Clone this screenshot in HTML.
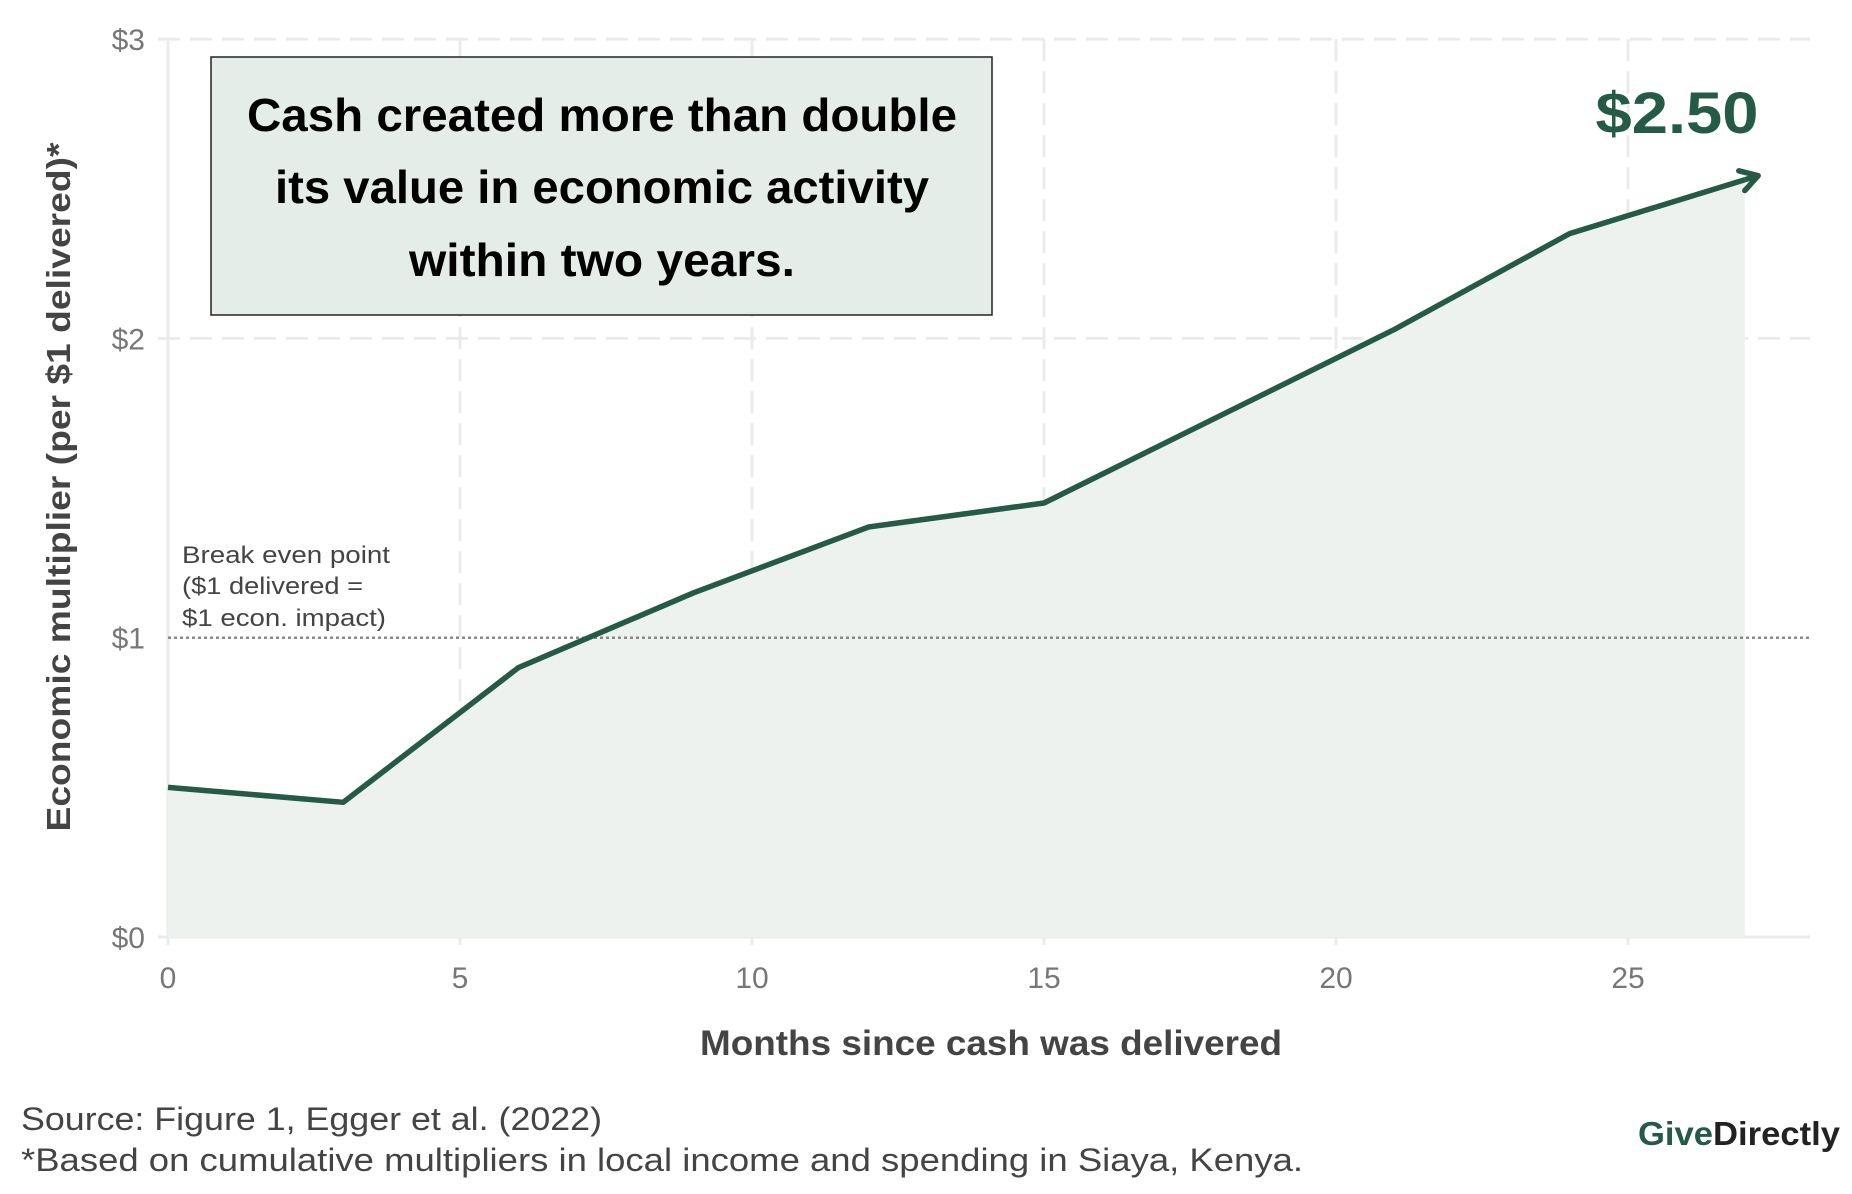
<!DOCTYPE html>
<html><head><meta charset="utf-8"><style>
body{margin:0;background:#fff;font-family:"Liberation Sans",sans-serif}
svg{display:block}
</style></head><body>
<svg width="1852" height="1194" xmlns="http://www.w3.org/2000/svg">
<g id="grid"></g>
<g id="area"></g>
<g id="axes"></g>
<rect x="211" y="57" width="781" height="258" fill="#e5ede9" stroke="#222" stroke-width="1.5"/>
<g font-weight="bold" font-size="46" fill="#000" text-anchor="middle" lengthAdjust="spacingAndGlyphs">
<text x="602" y="131" textLength="710" lengthAdjust="spacingAndGlyphs">Cash created more than double</text>
<text x="602" y="203" textLength="654" lengthAdjust="spacingAndGlyphs">its value in economic activity</text>
<text x="602" y="276" textLength="386" lengthAdjust="spacingAndGlyphs">within two years.</text>
</g>
<text x="1677" y="133" font-size="58" font-weight="bold" fill="#245a46" text-anchor="middle" textLength="163" lengthAdjust="spacingAndGlyphs">$2.50</text>
<g font-size="24" fill="#444">
<text x="182" y="563" textLength="208" lengthAdjust="spacingAndGlyphs">Break even point</text>
<text x="182" y="594" textLength="181" lengthAdjust="spacingAndGlyphs">($1 delivered =</text>
<text x="182" y="626" textLength="204" lengthAdjust="spacingAndGlyphs">$1 econ. impact)</text>
</g>
<text transform="translate(70,487) rotate(-90)" font-size="33" font-weight="bold" fill="#444" text-anchor="middle" textLength="689" lengthAdjust="spacingAndGlyphs">Economic multiplier (per $1 delivered)*</text>
<text x="991" y="1055" font-size="35" font-weight="bold" fill="#444" text-anchor="middle" textLength="582" lengthAdjust="spacingAndGlyphs">Months since cash was delivered</text>
<text x="21" y="1130" font-size="32" fill="#444" textLength="581" lengthAdjust="spacingAndGlyphs">Source: Figure 1, Egger et al. (2022)</text>
<text x="21" y="1171" font-size="32" fill="#444" textLength="1282" lengthAdjust="spacingAndGlyphs">*Based on cumulative multipliers in local income and spending in Siaya, Kenya.</text>
<text x="1638" y="1145" font-size="33" font-weight="bold" textLength="202" lengthAdjust="spacingAndGlyphs"><tspan fill="#245a46">Give</tspan><tspan fill="#222">Directly</tspan></text>
</svg>
<script>
const months=[0,3,6,9,12,15,18,21,24,27];
const multiplier=[0.50,0.45,0.90,1.15,1.37,1.45,1.74,2.03,2.35,2.53];
const xTicks=[0,5,10,15,20,25];
const yTicks=[0,1,2,3];
const yTickLabels=["$0","$1","$2","$3"];
const breakEven=1;
const NS="http://www.w3.org/2000/svg";
const X=v=>168+v*58.4, Y=v=>937-v*299.3;
function mk(t,a,p){const e=document.createElementNS(NS,t);for(const k in a)e.setAttribute(k,a[k]);p.appendChild(e);return e;}
const grid=document.getElementById('grid'),area=document.getElementById('area'),axes=document.getElementById('axes');
xTicks.forEach(t=>{
 const l=mk('line',{x1:X(t),x2:X(t),y1:Y(3),y2:945,stroke:'#ebebeb','stroke-width':3,'stroke-dasharray':t===0?'none':'22,10'},grid);
 
 
 const tx=mk('text',{x:X(t),y:988,'font-size':30,fill:'#777','text-anchor':'middle'},axes);
 tx.textContent=t;
 
 
});
yTicks.forEach((t,i)=>{
 if(t!==breakEven){
 const l=mk('line',{x1:158,x2:1810,y1:Y(t),y2:Y(t),stroke:'#ebebeb','stroke-width':3,'stroke-dasharray':t===0?'none':'22,10'},grid);
 
 }
 const tx=mk('text',{x:145,y:Y(t)+11,'font-size':30,fill:'#777','text-anchor':'end'},axes);
 tx.textContent=yTickLabels[i];
 
 
});
let d='M'+X(months[0])+','+Y(0);
months.forEach((m,i)=>d+=' L'+X(m)+','+Y(multiplier[i]));
d+=' L'+X(months[months.length-1])+','+Y(0)+'Z';
const ar=mk('path',{d:d,fill:'#edf2ef'},area);


const be=mk('line',{x1:168,x2:1810,y1:Y(breakEven),y2:Y(breakEven),stroke:'#888','stroke-width':2.5,'stroke-dasharray':'3,3'},axes);


const pts=months.map((m,i)=>X(m)+','+Y(multiplier[i])).join(' ');
const ln=mk('polyline',{points:pts,fill:'none',stroke:'#245a46','stroke-width':5.5,'stroke-linejoin':'round'},axes);


const n=months.length,x1=X(months[n-2]),y1=Y(multiplier[n-2]),x2=X(months[n-1]),y2=Y(multiplier[n-1]);
const ang=Math.atan2(y2-y1,x2-x1),tipX=x2+14*Math.cos(ang),tipY=y2+14*Math.sin(ang);
const ext=mk('line',{x1:x2,y1:y2,x2:tipX,y2:tipY,stroke:'#245a46','stroke-width':5.5},axes);


const L=20,a1=ang+2.6,a2=ang-2.6;
const ah=mk('polyline',{points:`${tipX+L*Math.cos(a1)},${tipY+L*Math.sin(a1)} ${tipX},${tipY} ${tipX+L*Math.cos(a2)},${tipY+L*Math.sin(a2)}`,fill:'none',stroke:'#245a46','stroke-width':5.5,'stroke-linecap':'round','stroke-linejoin':'round'},axes);


</script>
</body></html>
